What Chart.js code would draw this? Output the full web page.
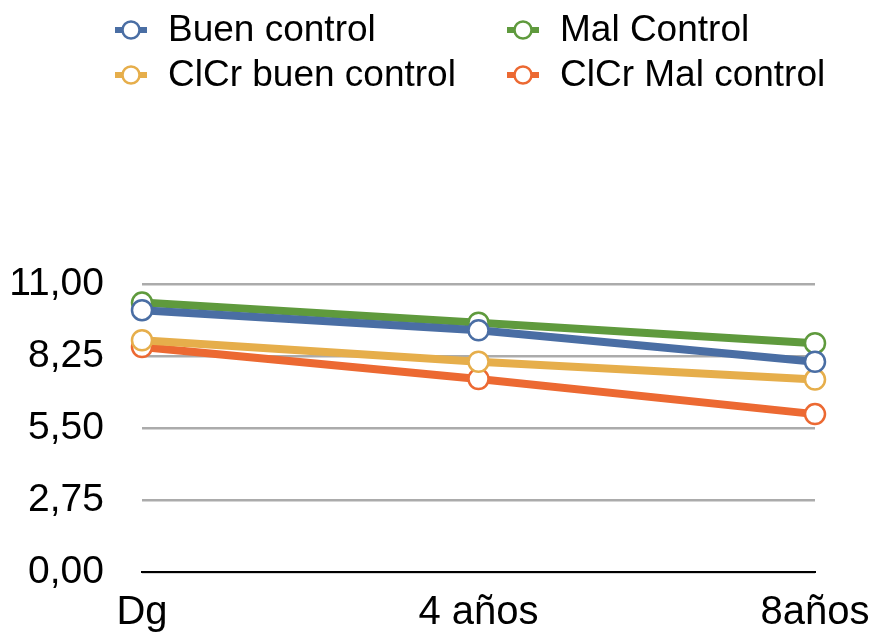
<!DOCTYPE html>
<html>
<head>
<meta charset="utf-8">
<script src="https://cdn.jsdelivr.net/npm/chart.js@4/dist/chart.umd.min.js"></script>
<style>
  html, body { margin: 0; padding: 0; background: #ffffff; }
  #wrap { position: relative; width: 875px; height: 639px; }
</style>
</head>
<body>
<div id="wrap"><canvas id="chart" width="875" height="639"></canvas></div>
<script>
// Categories and series
const categories = ['Dg', '4 años', '8años'];
const buenControl = [10.00, 9.23, 8.03];
const malControl = [10.29, 9.52, 8.74];
const clcrBuenControl = [8.85, 8.03, 7.35];
const clcrMalControl = [8.59, 7.37, 6.03];
const yTickValues = [0, 2.75, 5.50, 8.25, 11.00];

const seriesNames = ['Buen control', 'Mal Control', 'ClCr buen control', 'ClCr Mal control'];
const seriesColors = ['#4a6ea4', '#5f9a3d', '#e6ae4b', '#ec6932'];
const seriesData = [buenControl, malControl, clcrBuenControl, clcrMalControl];

const FONT = "'Liberation Sans', Arial, Helvetica, sans-serif";

// Two-column legend drawn above the plot
const gridLegend = {
  id: 'gridLegend',
  afterDraw(chart) {
    const ctx = chart.ctx;
    const cols = [131, 523];
    const rows = [30, 75];
    ctx.save();
    seriesNames.forEach((name, i) => {
      const cx = cols[i % 2];
      const cy = rows[Math.floor(i / 2)];
      const color = seriesColors[i];
      ctx.strokeStyle = color;
      ctx.lineWidth = 6;
      ctx.beginPath();
      ctx.moveTo(cx - 16, cy);
      ctx.lineTo(cx + 16, cy);
      ctx.stroke();
      ctx.beginPath();
      ctx.arc(cx, cy, 8.5, 0, Math.PI * 2);
      ctx.fillStyle = '#ffffff';
      ctx.fill();
      ctx.lineWidth = 2.5;
      ctx.stroke();
      ctx.fillStyle = '#000000';
      ctx.font = '37px ' + FONT;
      ctx.textBaseline = 'middle';
      ctx.textAlign = 'left';
      ctx.fillText(name, cx + 37, cy + 1);
    });
    ctx.restore();
  }
};

// Let tick labels use the full canvas edge instead of the tight axis boxes
const widenLabelArea = {
  id: 'widenLabelArea',
  afterLayout(chart) {
    chart.scales.y.left = 0;
    chart.scales.x.bottom = chart.height;
  }
};

new Chart(document.getElementById('chart'), {
  type: 'line',
  data: {
    labels: categories,
    datasets: seriesData.map((values, i) => ({
      label: seriesNames[i],
      data: values,
      borderColor: seriesColors[i],
      backgroundColor: '#ffffff',
      borderWidth: 8,
      tension: 0,
      pointRadius: 10,
      pointHoverRadius: 10,
      pointBorderWidth: 2.5,
      pointBackgroundColor: '#ffffff',
      pointBorderColor: seriesColors[i]
    }))
  },
  options: {
    responsive: false,
    animation: false,
    events: [],
    layout: { padding: { top: 284, left: 30, right: 60, bottom: 0 } },
    plugins: {
      legend: { display: false },
      tooltip: { enabled: false }
    },
    scales: {
      x: {
        offset: false,
        afterFit(scale) { scale.height = 67; },
        grid: { display: false, drawTicks: false },
        border: { display: true, color: '#000000', width: 2 },
        ticks: {
          color: '#000000',
          padding: 0,
          maxRotation: 0,
          font: { family: FONT, size: 40, lineHeight: 2.05 }
        }
      },
      y: {
        min: 0,
        max: 11,
        afterFit(scale) { scale.width = 112; },
        afterBuildTicks(scale) {
          scale.ticks = yTickValues.map(v => ({ value: v }));
        },
        grid: {
          color: '#ababab',
          lineWidth: 2.5,
          drawTicks: false
        },
        border: { display: false },
        ticks: {
          color: '#000000',
          padding: 38,
          font: { family: FONT, size: 39 },
          callback: v => Number(v).toFixed(2).replace('.', ',')
        }
      }
    }
  },
  plugins: [gridLegend, widenLabelArea]
});
</script>
</body>
</html>
